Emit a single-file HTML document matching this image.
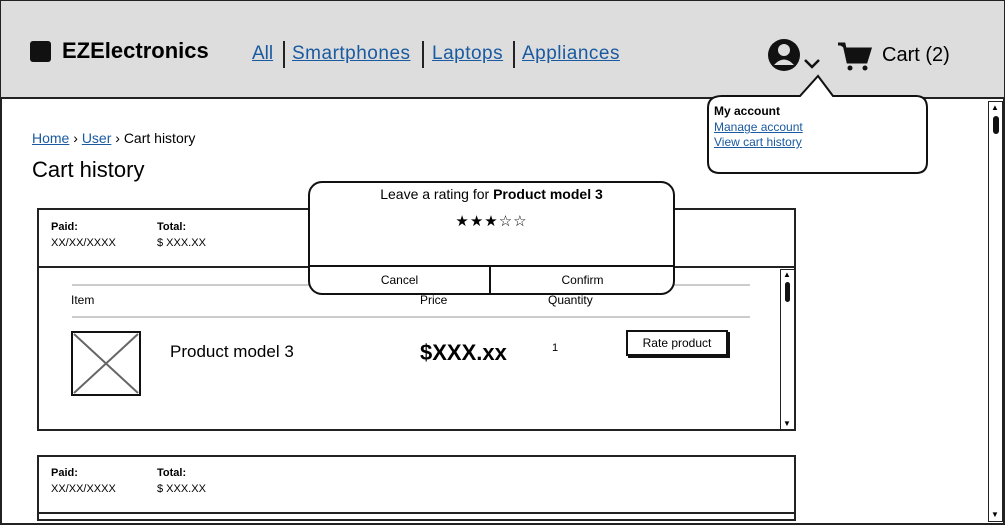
<!DOCTYPE html>
<html><head><meta charset="utf-8"><style>
*{margin:0;padding:0;box-sizing:border-box}
body{width:1005px;height:525px;position:relative;overflow:hidden;background:#fff;font-family:"Liberation Sans",sans-serif;color:#000}
.a{position:absolute;white-space:nowrap}
a,.l{color:#1a5aa0;text-decoration:underline}
</style></head><body>
<div class="a" style="left:0;top:0;width:1005px;height:525px;border:2px solid #222"></div>
<div class="a" style="left:1px;top:1px;width:1003px;height:98px;background:#ddd;border-bottom:2px solid #222"></div>
<div class="a" style="left:30px;top:41px;width:21px;height:21px;background:#111;border-radius:3px"></div>
<div class="a" style="left:62px;top:38px;font-size:22px;font-weight:bold">EZElectronics</div>
<div class="a l" style="left:252px;top:43px;font-size:19px">All</div>
<div class="a" style="left:283px;top:41px;width:2px;height:27px;background:#222"></div>
<div class="a l" style="left:292px;top:43px;font-size:19px;letter-spacing:0.5px">Smartphones</div>
<div class="a" style="left:422px;top:41px;width:2px;height:27px;background:#222"></div>
<div class="a l" style="left:432px;top:43px;font-size:19px;letter-spacing:0.5px">Laptops</div>
<div class="a" style="left:513px;top:41px;width:2px;height:27px;background:#222"></div>
<div class="a l" style="left:522px;top:43px;font-size:19px;letter-spacing:0.5px">Appliances</div>
<svg class="a" style="left:766px;top:36px" width="110" height="40">
<circle cx="18" cy="19" r="16" fill="#111"/><circle cx="18" cy="14" r="6" fill="#ddd"/><path d="M8 29 Q18 18 28 29" fill="#ddd"/>
<path d="M39 24 L46 31 L53 24" stroke="#111" stroke-width="2.5" fill="none"/>
<path d="M72 8 L78 8 L82 26 L100 26 L104 13 L80 13" stroke="#111" stroke-width="3" fill="#111"/>
<circle cx="84" cy="32" r="2.5" fill="#111"/><circle cx="99" cy="32" r="2.5" fill="#111"/>
</svg>
<div class="a" style="left:882px;top:44px;font-size:20px">Cart (2)</div>
<svg class="a" style="left:700px;top:70px" width="235" height="110">
<path d="M22 26 L100 26 L118 6 L133 26 L216 26 Q227 26 227 38 L227 92 Q227 103 216 103 L20 103 Q8 103 8 92 L8 38 Q8 26 22 26 Z" fill="#fff" stroke="#111" stroke-width="2"/>
</svg>
<div class="a" style="left:714px;top:104px;font-size:12px;font-weight:bold">My account</div>
<div class="a l" style="left:714px;top:120px;font-size:12px">Manage account</div>
<div class="a l" style="left:714px;top:135px;font-size:12px">View cart history</div>
<div class="a" style="left:988px;top:101px;width:15px;height:421px;border:1px solid #222;background:#fff"></div>
<div class="a" style="left:993px;top:116px;width:6px;height:18px;background:#111;border-radius:3px"></div>
<div class="a" style="left:991px;top:103px;font-size:8px">▲</div>
<div class="a" style="left:991px;top:510px;font-size:8px">▼</div>
<div class="a" style="left:32px;top:130px;font-size:14px"><span class="l">Home</span> › <span class="l">User</span> › Cart history</div>
<div class="a" style="left:32px;top:157px;font-size:22px">Cart history</div>
<div class="a" style="left:37px;top:208px;width:759px;height:223px;border:2px solid #222"></div>
<div class="a" style="left:37px;top:266px;width:759px;height:2px;background:#222"></div>
<div class="a" style="left:51px;top:221px;font-size:11px;font-weight:bold">Paid:</div>
<div class="a" style="left:51px;top:237px;font-size:11px">XX/XX/XXXX</div>
<div class="a" style="left:157px;top:221px;font-size:11px;font-weight:bold">Total:</div>
<div class="a" style="left:157px;top:237px;font-size:11px">$ XXX.XX</div>
<div class="a" style="left:780px;top:269px;width:15px;height:161px;border:1px solid #222"></div>
<div class="a" style="left:785px;top:282px;width:5px;height:20px;background:#111;border-radius:3px"></div>
<div class="a" style="left:783px;top:270px;font-size:8px">▲</div>
<div class="a" style="left:783px;top:419px;font-size:8px">▼</div>
<div class="a" style="left:72px;top:284px;width:678px;height:2px;background:#ccc"></div>
<div class="a" style="left:72px;top:316px;width:678px;height:2px;background:#ccc"></div>
<div class="a" style="left:71px;top:293px;font-size:12px">Item</div>
<div class="a" style="left:420px;top:293px;font-size:12px">Price</div>
<div class="a" style="left:548px;top:293px;font-size:12px">Quantity</div>
<svg class="a" style="left:71px;top:331px" width="70" height="65"><rect x="1" y="1" width="68" height="63" fill="#fff" stroke="#111" stroke-width="2"/><path d="M3 3 L67 62 M67 3 L3 62" stroke="#666" stroke-width="2"/></svg>
<div class="a" style="left:170px;top:342px;font-size:17px">Product model 3</div>
<div class="a" style="left:420px;top:340px;font-size:22px;font-weight:bold">$XXX.xx</div>
<div class="a" style="left:552px;top:342px;font-size:11px">1</div>
<div class="a" style="left:626px;top:330px;width:102px;height:26px;border:2px solid #111;box-shadow:2px 2px 0 #111;background:#fff;font-size:12px;text-align:center;line-height:22px">Rate product</div>
<div class="a" style="left:37px;top:455px;width:759px;height:66px;border:2px solid #222"></div>
<div class="a" style="left:37px;top:512px;width:759px;height:2px;background:#222"></div>
<div class="a" style="left:51px;top:467px;font-size:11px;font-weight:bold">Paid:</div>
<div class="a" style="left:51px;top:483px;font-size:11px">XX/XX/XXXX</div>
<div class="a" style="left:157px;top:467px;font-size:11px;font-weight:bold">Total:</div>
<div class="a" style="left:157px;top:483px;font-size:11px">$ XXX.XX</div>
<div class="a" style="left:308px;top:181px;width:367px;height:114px;border:2px solid #111;border-radius:14px;background:#fff"></div>
<div class="a" style="left:308px;top:186px;width:367px;text-align:center;font-size:14px">Leave a rating for <b>Product model 3</b></div>
<div class="a" style="left:308px;top:212px;width:367px;text-align:center;font-size:15px;letter-spacing:1px">★★★☆☆</div>
<div class="a" style="left:309px;top:265px;width:365px;height:2px;background:#111"></div>
<div class="a" style="left:489px;top:266px;width:2px;height:28px;background:#111"></div>
<div class="a" style="left:309px;top:273px;width:181px;text-align:center;font-size:12px">Cancel</div>
<div class="a" style="left:491px;top:273px;width:183px;text-align:center;font-size:12px">Confirm</div>
</body></html>
